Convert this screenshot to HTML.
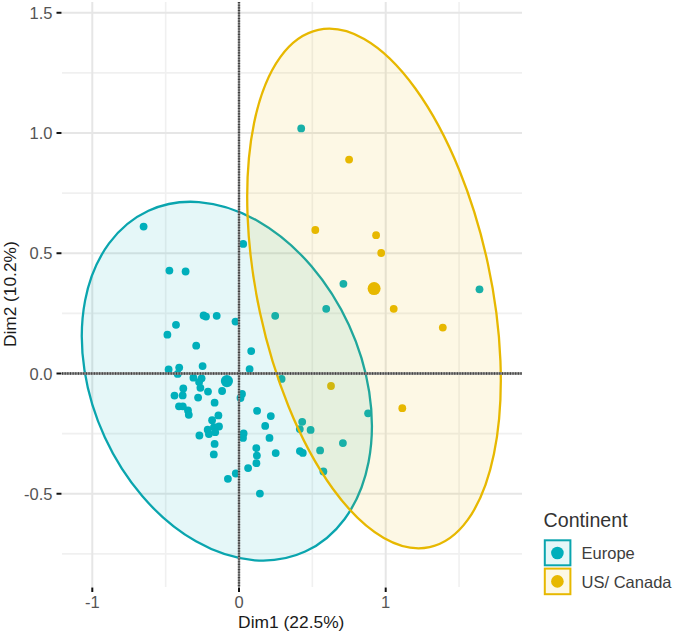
<!DOCTYPE html><html><head><meta charset="utf-8"><style>html,body{margin:0;padding:0;background:#fff;width:673px;height:634px;overflow:hidden}svg{display:block}text{font-family:"Liberation Sans",sans-serif}</style></head><body>
<svg width="673" height="634" viewBox="0 0 673 634">
<rect width="673" height="634" fill="#fff"/>
<g stroke="#F0F0F0" stroke-width="1.6"><line x1="165.65" y1="2" x2="165.65" y2="587"/><line x1="312.35" y1="2" x2="312.35" y2="587"/><line x1="459.05" y1="2" x2="459.05" y2="587"/><line x1="62" y1="72.88" x2="522" y2="72.88"/><line x1="62" y1="193.12" x2="522" y2="193.12"/><line x1="62" y1="313.38" x2="522" y2="313.38"/><line x1="62" y1="433.62" x2="522" y2="433.62"/><line x1="62" y1="553.88" x2="522" y2="553.88"/></g>
<g stroke="#E6E6E6" stroke-width="2"><line x1="92.30" y1="2" x2="92.30" y2="587"/><line x1="239.00" y1="2" x2="239.00" y2="587"/><line x1="385.70" y1="2" x2="385.70" y2="587"/><line x1="62" y1="12.75" x2="522" y2="12.75"/><line x1="62" y1="133.00" x2="522" y2="133.00"/><line x1="62" y1="253.25" x2="522" y2="253.25"/><line x1="62" y1="373.50" x2="522" y2="373.50"/><line x1="62" y1="493.75" x2="522" y2="493.75"/></g>
<g fill="#00AFBB"><circle cx="143.6" cy="226.6" r="3.9"/><circle cx="243.2" cy="243.9" r="3.9"/><circle cx="169.4" cy="270.6" r="3.9"/><circle cx="185.6" cy="271.5" r="3.9"/><circle cx="301.2" cy="128.4" r="3.9"/><circle cx="343.4" cy="283.8" r="3.9"/><circle cx="326.2" cy="308.8" r="3.9"/><circle cx="479.5" cy="289.3" r="3.9"/><circle cx="203.6" cy="315.5" r="3.9"/><circle cx="206" cy="316.6" r="3.9"/><circle cx="216.7" cy="315.8" r="3.9"/><circle cx="235.5" cy="321.6" r="3.9"/><circle cx="176" cy="324.8" r="3.9"/><circle cx="167.4" cy="334.7" r="3.9"/><circle cx="196.2" cy="345.7" r="3.9"/><circle cx="275.2" cy="315.8" r="3.9"/><circle cx="251.2" cy="351.1" r="3.9"/><circle cx="249.6" cy="369.1" r="3.9"/><circle cx="168.6" cy="369.5" r="3.9"/><circle cx="179.2" cy="367.6" r="3.9"/><circle cx="177.7" cy="373.9" r="3.9"/><circle cx="202.6" cy="366.1" r="3.9"/><circle cx="193.4" cy="377.7" r="3.9"/><circle cx="201.6" cy="378.3" r="3.9"/><circle cx="199.1" cy="382.1" r="3.9"/><circle cx="200.4" cy="387.8" r="3.9"/><circle cx="208" cy="391.6" r="3.9"/><circle cx="222.1" cy="391" r="3.9"/><circle cx="183.3" cy="388.4" r="3.9"/><circle cx="174.5" cy="395.6" r="3.9"/><circle cx="182.7" cy="395.4" r="3.9"/><circle cx="198.1" cy="397.6" r="3.9"/><circle cx="214.6" cy="402.7" r="3.9"/><circle cx="179" cy="406.3" r="3.9"/><circle cx="182.8" cy="406.3" r="3.9"/><circle cx="188" cy="410.4" r="3.9"/><circle cx="188.8" cy="414.8" r="3.9"/><circle cx="218.4" cy="415.4" r="3.9"/><circle cx="212.1" cy="420.2" r="3.9"/><circle cx="219" cy="426.5" r="3.9"/><circle cx="214" cy="427.1" r="3.9"/><circle cx="207.7" cy="429.7" r="3.9"/><circle cx="215.2" cy="432.2" r="3.9"/><circle cx="208.9" cy="434.1" r="3.9"/><circle cx="199.4" cy="435.5" r="3.9"/><circle cx="242" cy="394" r="3.9"/><circle cx="240.5" cy="398" r="3.9"/><circle cx="257.1" cy="410.8" r="3.9"/><circle cx="270.8" cy="416.1" r="3.9"/><circle cx="265.2" cy="425.9" r="3.9"/><circle cx="269.5" cy="437.9" r="3.9"/><circle cx="243.6" cy="433.4" r="3.9"/><circle cx="243" cy="437.9" r="3.9"/><circle cx="214.6" cy="443.9" r="3.9"/><circle cx="213.8" cy="454.4" r="3.9"/><circle cx="256.3" cy="448.1" r="3.9"/><circle cx="256.9" cy="455.6" r="3.9"/><circle cx="256.4" cy="463.2" r="3.9"/><circle cx="248.1" cy="468.1" r="3.9"/><circle cx="235.8" cy="473.5" r="3.9"/><circle cx="227.9" cy="478.8" r="3.9"/><circle cx="275.7" cy="453.1" r="3.9"/><circle cx="259.9" cy="493.6" r="3.9"/><circle cx="281.6" cy="378.9" r="3.9"/><circle cx="302.2" cy="421.8" r="3.9"/><circle cx="299.8" cy="429.1" r="3.9"/><circle cx="310.6" cy="429.9" r="3.9"/><circle cx="368.1" cy="413.3" r="3.9"/><circle cx="342.9" cy="443.1" r="3.9"/><circle cx="299.9" cy="451.1" r="3.9"/><circle cx="302.8" cy="452.9" r="3.9"/><circle cx="320.1" cy="450.4" r="3.9"/><circle cx="323.4" cy="471.4" r="3.9"/></g>
<g fill="#E7B800"><circle cx="349.1" cy="159.6" r="3.9"/><circle cx="315.3" cy="230" r="3.9"/><circle cx="376.1" cy="235.2" r="3.9"/><circle cx="381.2" cy="253" r="3.9"/><circle cx="393.7" cy="308.8" r="3.9"/><circle cx="442.8" cy="327.6" r="3.9"/><circle cx="331" cy="386" r="3.9"/><circle cx="402.3" cy="408.2" r="3.9"/></g>
<ellipse cx="226.85" cy="381.18" rx="187.56" ry="134.35" transform="rotate(65.30 226.85 381.18)" fill="#00AFBB" fill-opacity="0.1" stroke="#0AA5AE" stroke-width="2.3"/>
<ellipse cx="374.0" cy="288.5" rx="264.53" ry="116.54" transform="rotate(77.85 374.0 288.5)" fill="#E7B800" fill-opacity="0.1" stroke="#E7B800" stroke-width="2.3"/>
<circle cx="226.9" cy="381.1" r="6.1" fill="#00AFBB"/>
<circle cx="374.1" cy="288.6" r="6.5" fill="#E7B800"/>
<line x1="62.00" y1="373.50" x2="522.00" y2="373.50" stroke="#8c8c8c" stroke-width="2.3"/>
<line x1="62.00" y1="373.50" x2="522.00" y2="373.50" stroke="#404040" stroke-width="2.3" stroke-dasharray="1.1 1.55"/>
<line x1="239.00" y1="2.00" x2="239.00" y2="587.00" stroke="#8c8c8c" stroke-width="2.3"/>
<line x1="239.00" y1="2.00" x2="239.00" y2="587.00" stroke="#404040" stroke-width="2.3" stroke-dasharray="1.1 1.55"/>
<g stroke="#111" stroke-width="2"><line x1="56.5" y1="12.75" x2="61.5" y2="12.75"/><line x1="56.5" y1="133.00" x2="61.5" y2="133.00"/><line x1="56.5" y1="253.25" x2="61.5" y2="253.25"/><line x1="56.5" y1="373.50" x2="61.5" y2="373.50"/><line x1="56.5" y1="493.75" x2="61.5" y2="493.75"/><line x1="92.30" y1="587.5" x2="92.30" y2="592"/><line x1="239.00" y1="587.5" x2="239.00" y2="592"/><line x1="385.70" y1="587.5" x2="385.70" y2="592"/></g>
<g fill="#555" font-size="16.5"><text x="52.5" y="18.75" text-anchor="end">1.5</text><text x="52.5" y="139.00" text-anchor="end">1.0</text><text x="52.5" y="259.25" text-anchor="end">0.5</text><text x="52.5" y="379.50" text-anchor="end">0.0</text><text x="52.5" y="499.75" text-anchor="end">-0.5</text><text x="92.30" y="607.6" text-anchor="middle">-1</text><text x="239.00" y="607.6" text-anchor="middle">0</text><text x="385.70" y="607.6" text-anchor="middle">1</text></g>
<text x="238.1" y="627.6" font-size="16.5" fill="#1a1a1a" textLength="106.3" lengthAdjust="spacingAndGlyphs">Dim1 (22.5%)</text>
<text transform="translate(16,347.1) rotate(-90)" x="0" y="0" font-size="16.5" fill="#1a1a1a" textLength="105.8" lengthAdjust="spacingAndGlyphs">Dim2 (10.2%)</text>
<text x="543.6" y="527.4" font-size="19.5" fill="#333" textLength="84" lengthAdjust="spacingAndGlyphs">Continent</text>
<rect x="544.8" y="540.3" width="25.6" height="25" fill="#00AFBB" fill-opacity="0.1" stroke="#0AA5AE" stroke-width="2"/>
<circle cx="557.4" cy="553" r="6.3" fill="#00AFBB"/>
<rect x="544.8" y="568.6" width="25.6" height="25.6" fill="#E7B800" fill-opacity="0.1" stroke="#E7B800" stroke-width="2"/>
<circle cx="557.4" cy="581.4" r="6.3" fill="#E7B800"/>
<text x="581.6" y="559.1" font-size="16.5" fill="#3d3d3d">Europe</text>
<text x="581.6" y="587.5" font-size="16.5" fill="#3d3d3d">US/ Canada</text>
</svg></body></html>
